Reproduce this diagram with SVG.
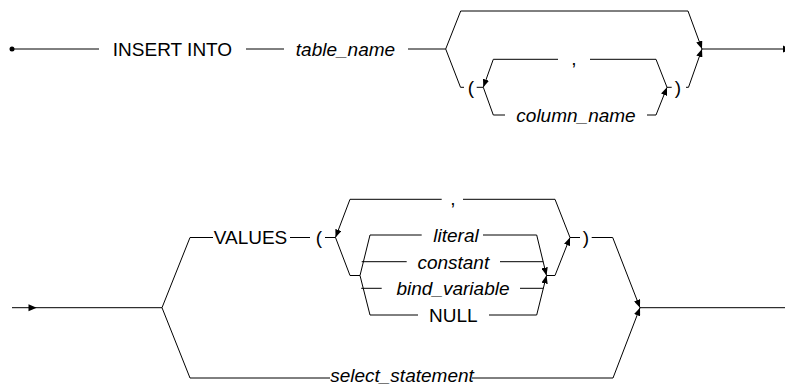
<svg xmlns="http://www.w3.org/2000/svg" width="785" height="385" viewBox="0 0 785 385">
<style>
.ln{fill:none;stroke:#000;stroke-width:1}
.ar{fill:none;stroke:#000;stroke-width:1;marker-end:url(#ah)}
.t{font-family:"Liberation Sans",Arial,sans-serif;font-size:19px;fill:#000;text-anchor:middle}
.i{font-style:italic}
</style>
<defs>
<marker id="ah" viewBox="0 0 10 8" refX="10" refY="4" markerWidth="8" markerHeight="6.4" markerUnits="userSpaceOnUse" orient="auto">
<path d="M0,0 L10,4 L0,8 Z" fill="#000"/>
</marker>
</defs>
<rect width="785" height="385" fill="#fff"/>
<g id="connectors">
<circle cx="12" cy="49" r="2.5" fill="#000"/>
<path class="ln" d="M12,49 H99"/>
<path class="ln" d="M246,49 H284"/>
<path class="ln" d="M408,49 H445.7"/>
<path class="ln" d="M445.7,49 L460.7,11 H688"/>
<path class="ar" d="M688,11 L702,49"/>
<path class="ln" d="M445.7,49 L460.5,87.3 H464"/>
<path class="ln" d="M476.7,87.3 H483.3"/>
<path class="ar" d="M493.3,59.3 L483.3,87.3"/>
<path class="ln" d="M493.3,59.3 H558"/>
<path class="ln" d="M590,59.3 H656 L667,87.3"/>
<path class="ln" d="M483.3,87.3 L493.3,115 H505"/>
<path class="ln" d="M647,115 H656"/>
<path class="ar" d="M656,115 L667,87.3"/>
<path class="ln" d="M667,87.3 H671.7"/>
<path class="ln" d="M686,87.3 H688.5"/>
<path class="ar" d="M688.5,87.3 L702,49"/>
<path class="ln" d="M702,49 H784"/>
<polygon points="783,45.5 791,49 783,52.5" fill="#000"/>
<path class="ln" d="M12,307.7 H162"/>
<polygon points="28.5,304.2 36.7,307.7 28.5,311.2" fill="#000"/>
<path class="ln" d="M162,307.7 L190,237.5 H213"/>
<path class="ln" d="M290,237.5 H310"/>
<path class="ln" d="M325,237.5 H335.5"/>
<path class="ar" d="M350,199.3 L335.5,237.5"/>
<path class="ln" d="M350,199.3 H441.7"/>
<path class="ln" d="M463,199.3 H555 L570,237.5"/>
<path class="ln" d="M335.5,237.5 L350,275.5 H360"/>
<path class="ln" d="M360,275.5 L370,235 H421.7"/>
<path class="ln" d="M360,275.5 L370,315 H418"/>
<path class="ln" d="M361.7,261.7 H406.7"/>
<path class="ln" d="M361.2,288.3 H381.7"/>
<path class="ln" d="M483,235 H536.7"/>
<path class="ar" d="M536.7,235 L546.5,275.5"/>
<path class="ln" d="M489,315 H536.7"/>
<path class="ar" d="M536.7,315 L546.5,275.5"/>
<path class="ln" d="M500,261.7 H543.2"/>
<path class="ln" d="M520,288.3 H543.3"/>
<path class="ln" d="M546.5,275.5 H555"/>
<path class="ar" d="M555,275.5 L570,237.5"/>
<path class="ln" d="M570,237.5 H580"/>
<path class="ln" d="M591.7,237.5 H612.7"/>
<path class="ar" d="M612.7,237.5 L640,307.7"/>
<path class="ln" d="M162,307.7 L190,378 H330"/>
<path class="ln" d="M472,378 H613"/>
<path class="ar" d="M613,378 L640,307.7"/>
<path class="ln" d="M640,307.7 H785"/>
</g>
<g id="insert_into"><text class="t" x="172.5" y="55.8">INSERT INTO</text></g>
<g id="table_name"><text class="t i" x="345.5" y="55.8">table_name</text></g>
<g id="lparen1"><text class="t" x="471" y="94">(</text></g>
<g id="comma1"><text class="t" x="574" y="64.5">,</text></g>
<g id="column_name"><text class="t i" x="576" y="121.8">column_name</text></g>
<g id="rparen1"><text class="t" x="678" y="94">)</text></g>
<g id="values"><text class="t" x="250.5" y="244.3">VALUES</text></g>
<g id="lparen2"><text class="t" x="319" y="244.3">(</text></g>
<g id="comma2"><text class="t" x="453" y="204.5">,</text></g>
<g id="literal"><text class="t i" x="456" y="241.8">literal</text></g>
<g id="constant"><text class="t i" x="453.3" y="268.5">constant</text></g>
<g id="bind_variable"><text class="t i" x="453" y="295.1">bind_variable</text></g>
<g id="null"><text class="t" x="453.3" y="321.8">NULL</text></g>
<g id="rparen2"><text class="t" x="586" y="244.3">)</text></g>
<g id="select_statement"><text class="t i" x="402" y="382">select_statement</text></g>
</svg>
